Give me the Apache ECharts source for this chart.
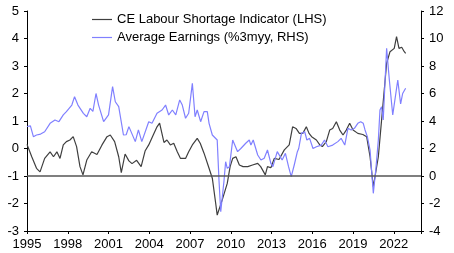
<!DOCTYPE html>
<html>
<head>
<meta charset="utf-8">
<script src="https://cdn.jsdelivr.net/npm/echarts@6/dist/echarts.min.js"></script>
<style>
html,body{margin:0;padding:0;background:#fff;}
#chart{width:454px;height:253px;}
</style>
</head>
<body>
<div id="chart"></div>
<script>
// Series names
const seriesNames = ['CE Labour Shortage Indicator (LHS)', 'Average Earnings (%3myy, RHS)'];

// CE Labour Shortage Indicator (LHS): time (decimal year) and values
const shortageTimes = [1995.0,1995.35,1995.7,1995.96,1996.3,1996.7,1996.95,1997.2,1997.43,1997.67,1997.9,1998.16,1998.4,1998.65,1998.9,1999.12,1999.4,1999.76,2000.15,2000.52,2000.89,2001.13,2001.45,2001.75,2001.94,2002.22,2002.5,2002.73,2003.07,2003.4,2003.7,2003.96,2004.3,2004.57,2004.76,2005.08,2005.3,2005.55,2005.8,2006.06,2006.3,2006.67,2006.9,2007.17,2007.53,2007.75,2008.03,2008.4,2008.64,2008.89,2009.0,2009.37,2009.74,2009.95,2010.14,2010.38,2010.63,2010.9,2011.25,2011.6,2011.98,2012.2,2012.54,2012.7,2012.95,2013.2,2013.55,2013.94,2014.3,2014.55,2014.8,2015.05,2015.3,2015.56,2015.76,2015.95,2016.3,2016.55,2016.74,2017.03,2017.28,2017.5,2017.77,2018.02,2018.26,2018.5,2018.75,2019.0,2019.35,2019.72,2020.0,2020.25,2020.49,2020.62,2020.86,2021.1,2021.47,2021.72,2022.03,2022.2,2022.38,2022.58,2022.77,2022.87];
const shortageValues = [0.15,-0.3,-0.72,-0.85,-0.36,-0.12,-0.3,-0.12,-0.36,0.13,0.25,0.31,0.43,0.07,-0.66,-0.96,-0.42,-0.12,-0.22,0.13,0.43,0.49,0.25,-0.3,-0.88,-0.2,-0.45,-0.55,-0.43,-0.66,-0.08,0.13,0.5,0.79,0.92,0.22,0.31,0.13,0.19,-0.12,-0.36,-0.36,-0.12,0.13,0.37,0.19,-0.17,-0.72,-1.08,-2.0,-2.42,-1.87,-1.27,-0.66,-0.36,-0.3,-0.6,-0.66,-0.66,-0.6,-0.54,-0.66,-0.96,-0.66,-0.7,-0.36,-0.4,-0.05,0.13,0.79,0.73,0.55,0.55,0.79,0.55,0.43,0.31,0.13,0.07,0.25,0.67,0.73,0.97,0.67,0.49,0.67,0.92,0.67,0.55,0.51,0.43,-0.3,-1.39,-1.33,-0.3,1.04,3.1,3.52,3.64,4.07,3.64,3.68,3.52,3.46];

// Average Earnings (%3myy, RHS)
const earningsTimes = [1995.0,1995.25,1995.47,1995.7,1996.0,1996.3,1996.7,1997.06,1997.35,1997.67,1997.9,1998.3,1998.5,1998.75,1999.15,1999.4,1999.65,1999.85,2000.08,2000.27,2000.64,2001.0,2001.3,2001.5,2001.75,2002.1,2002.3,2002.5,2002.97,2003.2,2003.45,2003.96,2004.2,2004.57,2004.94,2005.2,2005.43,2005.7,2005.95,2006.24,2006.43,2006.67,2006.9,2007.17,2007.37,2007.53,2007.78,2008.03,2008.27,2008.4,2008.64,2009.0,2009.13,2009.26,2009.5,2009.62,2009.74,2009.9,2010.14,2010.26,2010.5,2010.74,2011.1,2011.36,2011.48,2011.65,2011.98,2012.22,2012.46,2012.7,2012.95,2013.1,2013.42,2013.78,2014.02,2014.25,2014.45,2014.67,2014.9,2015.0,2015.2,2015.44,2015.6,2015.8,2016.05,2016.3,2016.66,2016.9,2017.15,2017.5,2017.88,2018.12,2018.39,2018.62,2018.86,2019.1,2019.35,2019.56,2019.75,2019.88,2020.05,2020.25,2020.49,2020.67,2020.86,2020.98,2021.1,2021.22,2021.47,2021.67,2021.92,2022.29,2022.5,2022.65,2022.87];
const earningsValues = [3.6,3.65,2.86,2.98,3.05,3.22,3.83,4.07,3.95,4.44,4.68,5.16,5.77,5.16,4.56,4.31,4.92,4.7,6.0,5.16,3.95,4.44,6.5,5.4,5.04,2.98,3.0,3.59,2.5,3.35,2.5,3.95,3.83,4.56,4.8,5.16,4.44,4.8,4.44,5.53,5.16,4.2,4.56,6.74,4.31,4.8,3.95,4.68,4.68,3.83,2.98,2.62,-0.29,-2.6,-0.35,1.04,0.56,0.68,2.62,2.74,1.77,2.0,2.38,2.62,2.25,2.62,1.53,1.16,1.29,1.89,0.92,0.68,1.77,1.16,1.65,0.68,-0.05,0.8,1.77,2.0,3.1,3.22,2.62,2.74,2.0,2.13,2.25,2.62,2.13,2.25,2.5,2.74,2.25,3.47,3.35,3.47,3.83,3.95,3.83,3.35,2.86,1.89,-1.26,0.44,2.62,4.8,5.04,4.07,9.29,6.98,4.44,6.98,5.24,6.0,6.38];

// Axis settings (tick labels)
const xMin = 1995, xMax = 2024, xStep = 3, xLastLabel = 2022;
const lhsMin = -3, lhsMax = 5, lhsStep = 1;
const rhsMin = -4, rhsMax = 12, rhsStep = 2;
const zeroLineRHS = 0;

const zip = (a, b) => a.map((t, i) => [t, b[i]]);

const font = 'Liberation Sans, Arial, sans-serif';
const chart = echarts.init(document.getElementById('chart'), null, {renderer: 'canvas'});
const axisCommon = {
  axisLine: {show: true, onZero: false, lineStyle: {color: '#000', width: 1}},
  axisTick: {show: true, length: 3, lineStyle: {color: '#000'}},
  splitLine: {show: false},
  axisLabel: {color: '#000', fontSize: 13, fontFamily: font}
};
chart.setOption({
  animation: false,
  backgroundColor: '#fff',
  grid: {left: 27, right: 33, top: 11, bottom: 22, containLabel: false},
  legend: {
    orient: 'vertical', left: 87, top: 8, itemWidth: 20, itemHeight: 1.2, itemGap: 5,
    icon: 'rect',
    textStyle: {color: '#000', fontSize: 13, fontFamily: font},
    data: seriesNames
  },
  xAxis: Object.assign({}, axisCommon, {
    type: 'value', min: xMin, max: xMax, interval: xStep,
    axisLabel: Object.assign({}, axisCommon.axisLabel, {margin: 7,
      formatter: v => (v <= xLastLabel ? String(v) : '')})
  }),
  yAxis: [
    Object.assign({}, axisCommon, {type: 'value', position: 'left', min: lhsMin, max: lhsMax, interval: lhsStep,
      axisLabel: Object.assign({}, axisCommon.axisLabel, {margin: 8})}),
    Object.assign({}, axisCommon, {type: 'value', position: 'right', min: rhsMin, max: rhsMax, interval: rhsStep,
      axisLabel: Object.assign({}, axisCommon.axisLabel, {margin: 8})})
  ],
  series: [
    {name: seriesNames[0], type: 'line', yAxisIndex: 0, symbol: 'none', smooth: false,
     lineStyle: {color: '#3f3f3f', width: 1.2}, itemStyle: {color: '#3f3f3f'},
     data: zip(shortageTimes, shortageValues), z: 3},
    {name: seriesNames[1], type: 'line', yAxisIndex: 1, symbol: 'none', smooth: false,
     lineStyle: {color: '#8080ff', width: 1.2}, itemStyle: {color: '#8080ff'},
     data: zip(earningsTimes, earningsValues), z: 4,
     markLine: {silent: true, symbol: 'none', label: {show: false},
       lineStyle: {color: '#555', width: 1.6, type: 'solid'},
       data: [{yAxis: zeroLineRHS}]}}
  ]
});
</script>
</body>
</html>
